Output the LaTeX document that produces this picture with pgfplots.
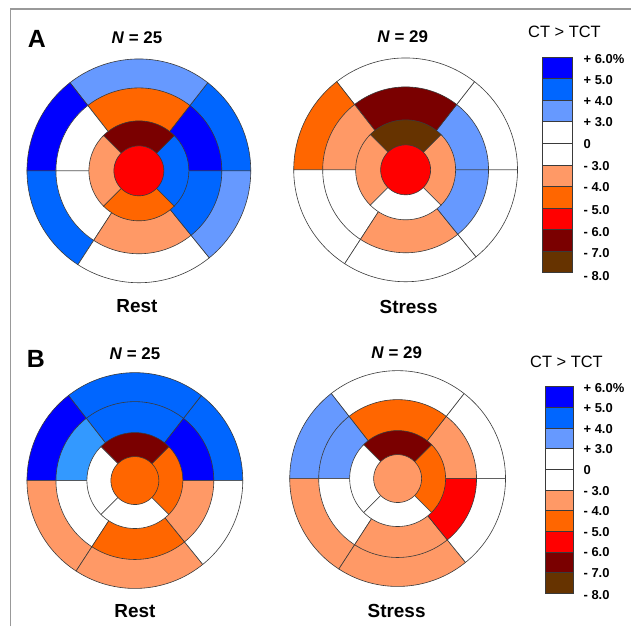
\documentclass[border=0pt]{standalone}
\usepackage{pgfplots}
\pgfplotsset{compat=1.18}
\usepackage{fontspec}
\setmainfont{Liberation Sans}
\definecolor{dkblue}{HTML}{0000FF}
\definecolor{medblue}{HTML}{0066FF}
\definecolor{ltblue}{HTML}{6699FF}
\definecolor{skyblue}{HTML}{3399FF}
\definecolor{ltorange}{HTML}{FF9966}
\definecolor{orange}{HTML}{FF6600}
\definecolor{red}{HTML}{FF0000}
\definecolor{dkred}{HTML}{7A0000}
\definecolor{brown}{HTML}{663300}
\definecolor{segline}{HTML}{3A3A3A}
\newcommand{\wdg}[6]{\addplot[fill=#6, draw=segline, line width=0.6pt, domain=#4:#5, samples=40, variable=\t] ({#1+#3*cos(t)},{#2-#3*sin(t)}) -- (axis cs:#1,#2) -- cycle;}
\newcommand{\ring}[9]{%
\wdg{#1}{#2}{#3}{0}{52}{#4}
\wdg{#1}{#2}{#3}{52}{128}{#5}
\wdg{#1}{#2}{#3}{128}{180}{#6}
\wdg{#1}{#2}{#3}{180}{237}{#7}
\wdg{#1}{#2}{#3}{237}{309}{#8}
\wdg{#1}{#2}{#3}{309}{360}{#9}}
\newcommand{\apical}[7]{%
\wdg{#1}{#2}{#3}{-45}{45}{#4}
\wdg{#1}{#2}{#3}{45}{135}{#5}
\wdg{#1}{#2}{#3}{135}{225}{#6}
\wdg{#1}{#2}{#3}{225}{315}{#7}}
\newcommand{\apex}[4]{\addplot[fill=#4, draw=segline, line width=0.6pt, domain=0:360, samples=60, variable=\t] ({#1+#3*cos(t)},{#2-#3*sin(t)}) -- cycle;}
\newcommand{\cbox}[5]{\addplot[fill=#5, draw=segline, line width=0.6pt] coordinates {(#1,#3) (#2,#3) (#2,#4) (#1,#4)} -- cycle;}
\begin{document}
\begin{tikzpicture}
\begin{axis}[width=632bp, height=627bp, scale only axis, xmin=0, xmax=632, ymin=0, ymax=627, y dir=reverse, axis lines=none, clip=false]
% page extent
\addplot[draw=none] coordinates {(0,0) (632,627)};
% frame
\addplot[draw=gray!80, line width=1.2pt] coordinates {(10.5,627) (10.5,9) (632,9)};
% ---------- A Rest ----------
\ring{139}{171}{112}{medblue}{ltblue}{dkblue}{medblue}{white}{ltblue}
\ring{139}{171}{83}{dkblue}{orange}{white}{white}{ltorange}{medblue}
\apical{139}{171}{50}{medblue}{dkred}{ltorange}{orange}
\apex{139}{171}{25}{red}
% ---------- A Stress ----------
\ring{406}{170}{112}{white}{white}{orange}{white}{white}{white}
\ring{406}{170}{83}{ltblue}{dkred}{ltorange}{white}{ltorange}{ltblue}
\apical{406}{170}{50}{ltorange}{brown}{ltorange}{white}
\apex{406}{170}{25}{red}
% ---------- B Rest ----------
\ring{135}{481}{108}{medblue}{medblue}{dkblue}{ltorange}{ltorange}{white}
\ring{135}{481}{79}{dkblue}{medblue}{skyblue}{white}{orange}{ltorange}
\apical{135}{481}{48}{orange}{dkred}{white}{white}
\apex{135}{481}{24}{orange}
% ---------- B Stress ----------
\ring{398}{479}{108}{white}{white}{ltblue}{ltorange}{ltorange}{white}
\ring{398}{479}{79}{ltorange}{orange}{ltblue}{white}{ltorange}{red}
\apical{398}{479}{48}{orange}{dkred}{white}{white}
\apex{398}{479}{24}{ltorange}
% ---------- colour bar A ----------
\cbox{542.7}{572.7}{57.3}{78.8}{dkblue}
\cbox{542.7}{572.7}{78.8}{100.4}{medblue}
\cbox{542.7}{572.7}{100.4}{121.9}{ltblue}
\cbox{542.7}{572.7}{121.9}{143.5}{white}
\cbox{542.7}{572.7}{143.5}{165.0}{white}
\cbox{542.7}{572.7}{165.0}{186.5}{ltorange}
\cbox{542.7}{572.7}{186.5}{208.1}{orange}
\cbox{542.7}{572.7}{208.1}{229.6}{red}
\cbox{542.7}{572.7}{229.6}{251.2}{dkred}
\cbox{542.7}{572.7}{251.2}{272.7}{brown}
% ---------- colour bar B ----------
\cbox{546}{574.3}{386.7}{407.4}{dkblue}
\cbox{546}{574.3}{407.4}{428.2}{medblue}
\cbox{546}{574.3}{428.2}{448.9}{ltblue}
\cbox{546}{574.3}{448.9}{469.6}{white}
\cbox{546}{574.3}{469.6}{490.4}{white}
\cbox{546}{574.3}{490.4}{511.1}{ltorange}
\cbox{546}{574.3}{511.1}{531.8}{orange}
\cbox{546}{574.3}{531.8}{552.5}{red}
\cbox{546}{574.3}{552.5}{573.3}{dkred}
\cbox{546}{574.3}{573.3}{594.0}{brown}
% ---------- texts ----------
\node[font=\fontsize{25}{25}\selectfont\bfseries] at (axis cs:37,39) {A};
\node[font=\fontsize{25}{25}\selectfont\bfseries] at (axis cs:36,359) {B};
\node[font=\fontsize{17}{17}\selectfont\bfseries] at (axis cs:137,38) {\textit{N} = 25};
\node[font=\fontsize{17}{17}\selectfont\bfseries] at (axis cs:403,37) {\textit{N} = 29};
\node[font=\fontsize{17}{17}\selectfont\bfseries] at (axis cs:135,354) {\textit{N} = 25};
\node[font=\fontsize{17}{17}\selectfont\bfseries] at (axis cs:397,353) {\textit{N} = 29};
\node[font=\fontsize{19}{19}\selectfont\bfseries] at (axis cs:137,306) {Rest};
\node[font=\fontsize{19}{19}\selectfont\bfseries] at (axis cs:409,307) {Stress};
\node[font=\fontsize{19}{19}\selectfont\bfseries] at (axis cs:135,612) {Rest};
\node[font=\fontsize{19}{19}\selectfont\bfseries] at (axis cs:397,612) {Stress};
\node[font=\fontsize{16.5}{16.5}\selectfont] at (axis cs:565,32) {CT > TCT};
\node[font=\fontsize{16.5}{16.5}\selectfont] at (axis cs:567,362) {CT > TCT};
% labels
\begin{scope}[every node/.style={anchor=west, font=\fontsize{13}{13}\selectfont\bfseries, inner sep=0pt}]
\node at (axis cs:584,59) {+ 6.0\%};
\node at (axis cs:584,80) {+ 5.0};
\node at (axis cs:584,101) {+ 4.0};
\node at (axis cs:584,122) {+ 3.0};
\node at (axis cs:584,144) {0};
\node at (axis cs:584,166) {- 3.0};
\node at (axis cs:584,187) {- 4.0};
\node at (axis cs:584,210) {- 5.0};
\node at (axis cs:584,232) {- 6.0};
\node at (axis cs:584,253) {- 7.0};
\node at (axis cs:584,276) {- 8.0};
\node at (axis cs:584,388) {+ 6.0\%};
\node at (axis cs:584,408) {+ 5.0};
\node at (axis cs:584,429) {+ 4.0};
\node at (axis cs:584,449) {+ 3.0};
\node at (axis cs:584,470) {0};
\node at (axis cs:584,492) {- 3.0};
\node at (axis cs:584,512) {- 4.0};
\node at (axis cs:584,533) {- 5.0};
\node at (axis cs:584,553) {- 6.0};
\node at (axis cs:584,574) {- 7.0};
\node at (axis cs:584,596) {- 8.0};
\end{scope}
\end{axis}
\end{tikzpicture}
\end{document}
